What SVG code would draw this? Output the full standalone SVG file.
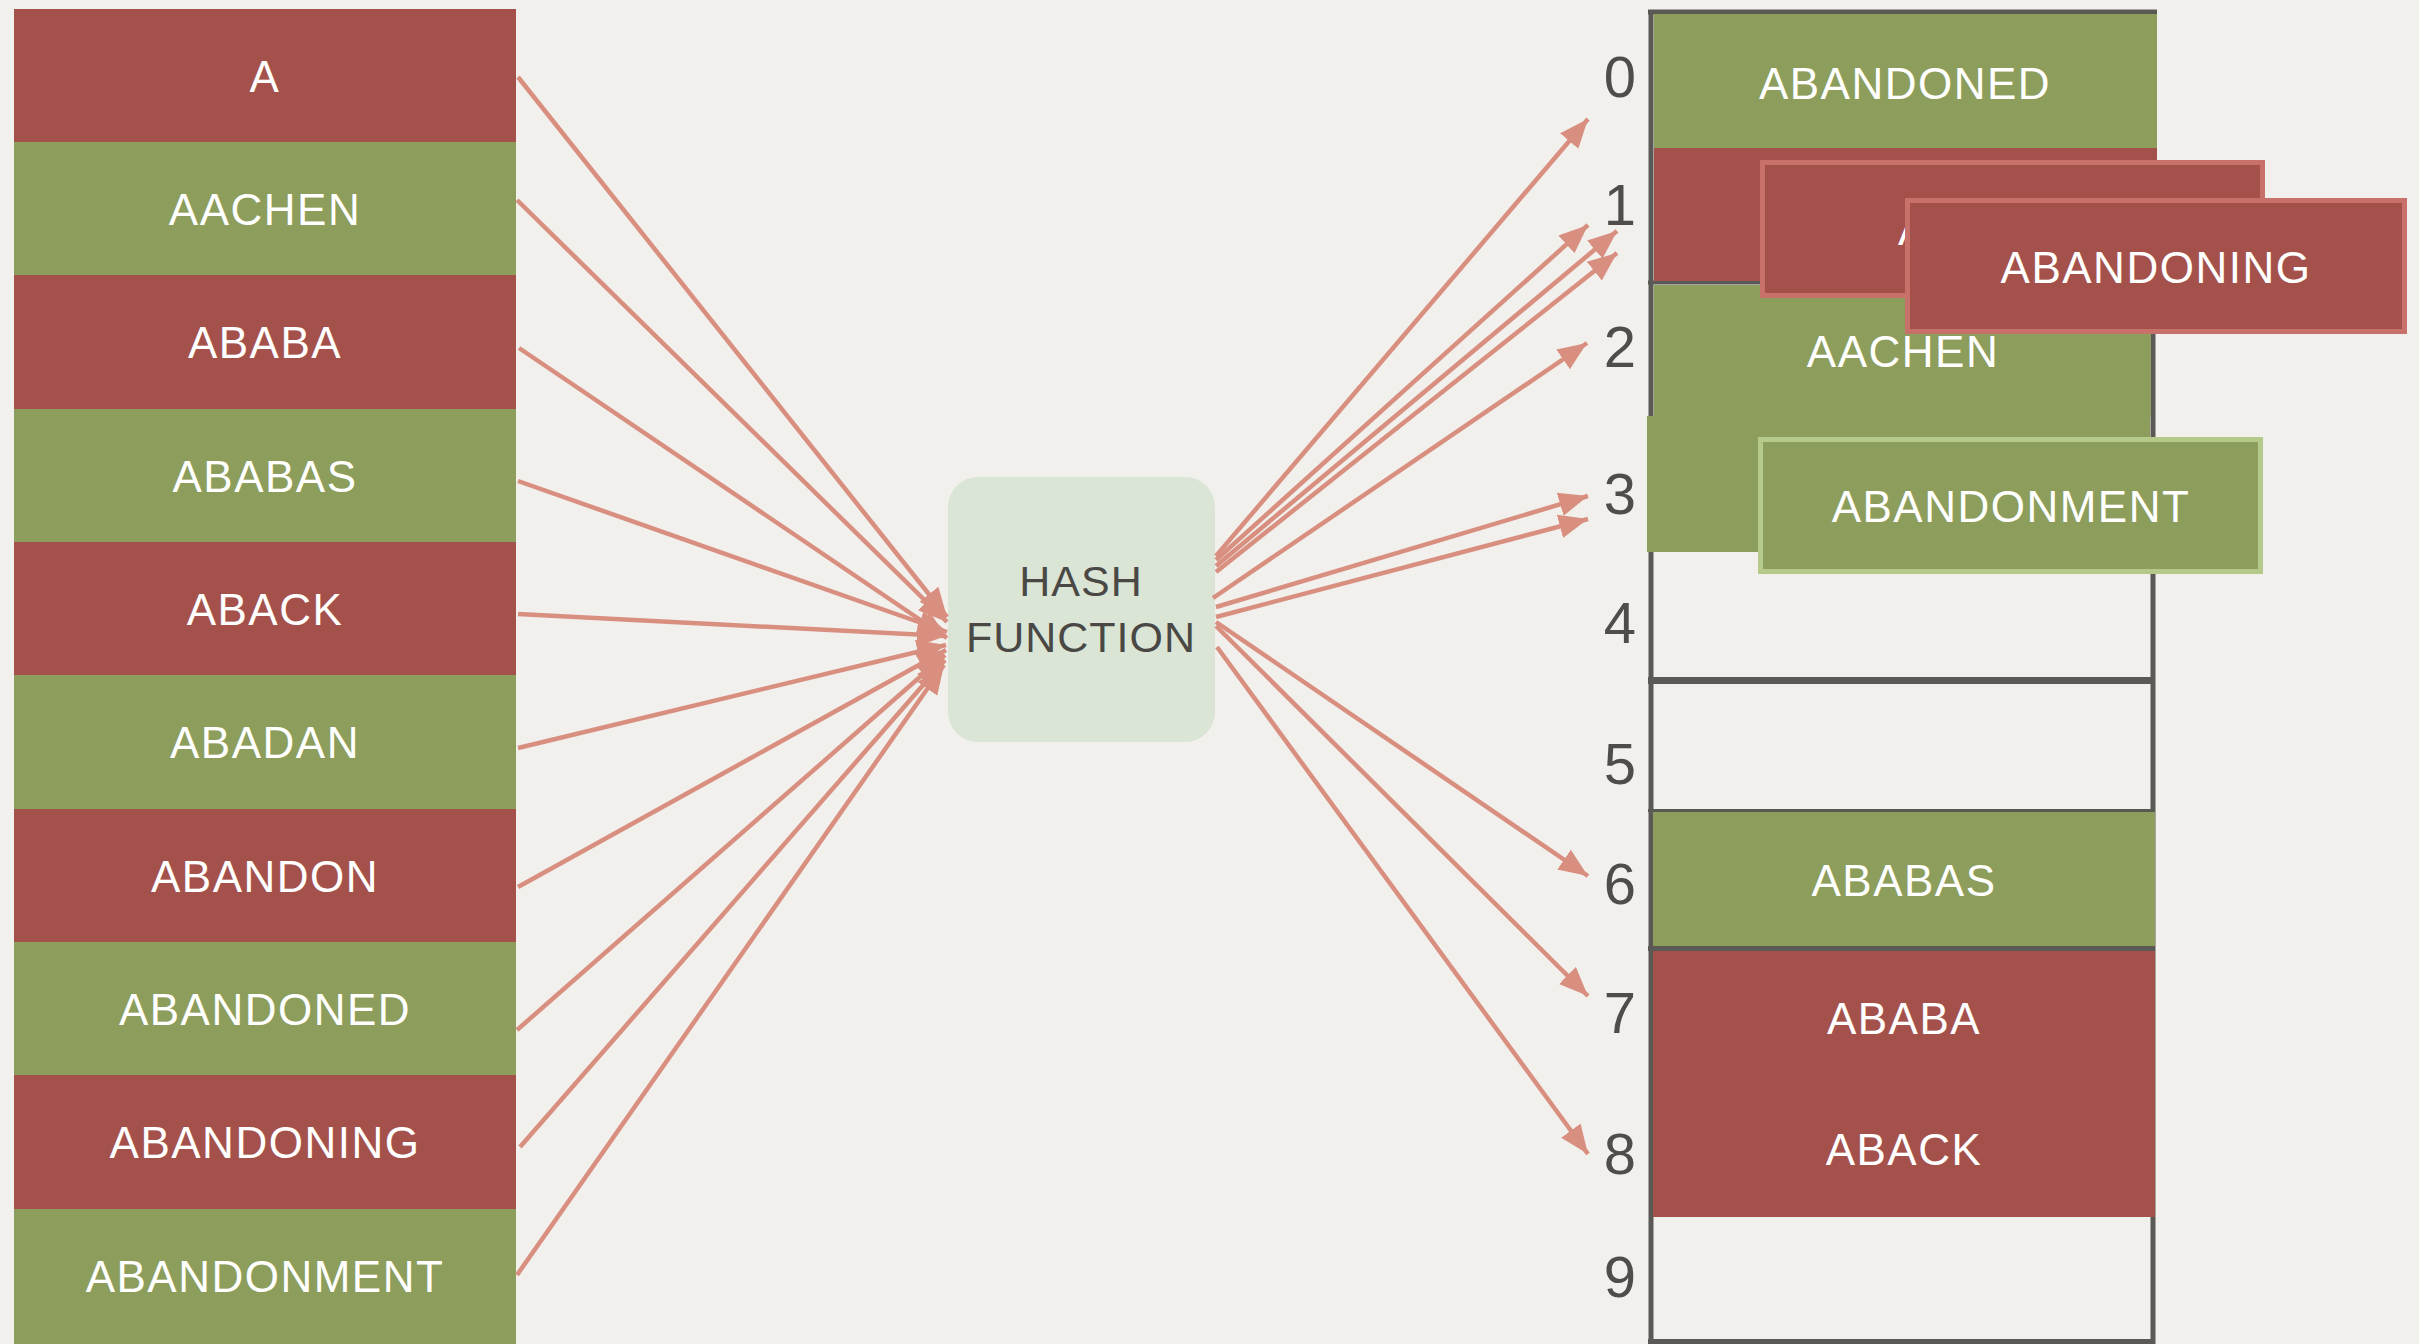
<svg xmlns="http://www.w3.org/2000/svg" width="2419" height="1344" viewBox="0 0 2419 1344">
<defs>
<style>
.red{fill:#a5514b}
.green{fill:#8d9d5b}
.w{font-family:"Liberation Sans",Arial,sans-serif;font-size:44px;fill:#ffffff;text-anchor:middle;letter-spacing:1.5px}
.num{font-family:"Liberation Sans",Arial,sans-serif;font-size:58px;fill:#4f4d4a;text-anchor:middle}
.frame{stroke:#5b5955;stroke-width:5;fill:none}
.arrow{stroke:#d98f80;stroke-width:4.5;fill:none;marker-end:url(#ah)}
</style>
<marker id="ah" markerUnits="userSpaceOnUse" markerWidth="32" markerHeight="28" refX="29" refY="14" orient="auto">
<path d="M0,2 L29,14 L0,26 z" fill="#d98f80"/>
</marker>
</defs>
<rect x="0" y="0" width="2419" height="1344" fill="#f1f0ec"/>

<g id="keys">
<g id="key-A"><rect class="red" x="14" y="9" width="502" height="134"/><text class="w" x="265" y="92">A</text></g>
<g id="key-AACHEN"><rect class="green" x="14" y="142" width="502" height="134"/><text class="w" x="265" y="225">AACHEN</text></g>
<g id="key-ABABA"><rect class="red" x="14" y="275" width="502" height="134"/><text class="w" x="265" y="358">ABABA</text></g>
<g id="key-ABABAS"><rect class="green" x="14" y="409" width="502" height="134"/><text class="w" x="265" y="492">ABABAS</text></g>
<g id="key-ABACK"><rect class="red" x="14" y="542" width="502" height="134"/><text class="w" x="265" y="625">ABACK</text></g>
<g id="key-ABADAN"><rect class="green" x="14" y="675" width="502" height="134"/><text class="w" x="265" y="758">ABADAN</text></g>
<g id="key-ABANDON"><rect class="red" x="14" y="809" width="502" height="134"/><text class="w" x="265" y="892">ABANDON</text></g>
<g id="key-ABANDONED"><rect class="green" x="14" y="942" width="502" height="134"/><text class="w" x="265" y="1025">ABANDONED</text></g>
<g id="key-ABANDONING"><rect class="red" x="14" y="1075" width="502" height="134"/><text class="w" x="265" y="1158">ABANDONING</text></g>
<g id="key-ABANDONMENT"><rect class="green" x="14" y="1209" width="502" height="136"/><text class="w" x="265" y="1292">ABANDONMENT</text></g>
</g>

<g id="hash-function">
<rect x="948" y="477" width="267" height="265" rx="30" ry="30" fill="#dae5d6"/>
<text x="1081" y="596" font-family="'Liberation Sans',Arial,sans-serif" font-size="43" fill="#4a4845" text-anchor="middle" letter-spacing="1">HASH</text>
<text x="1081" y="652" font-family="'Liberation Sans',Arial,sans-serif" font-size="43" fill="#4a4845" text-anchor="middle" letter-spacing="1">FUNCTION</text>
</g>

<g id="table">
<g id="table-frame">
<line class="frame" x1="1648" y1="12" x2="2157" y2="12"/>
<line class="frame" x1="1651" y1="10" x2="1651" y2="1344"/>
<line class="frame" x1="2153" y1="283" x2="2153" y2="1344"/>
<line class="frame" x1="1648" y1="282.5" x2="2155" y2="282.5" style="stroke-width:4"/>
<line class="frame" x1="1648" y1="680.5" x2="2155" y2="680.5" style="stroke-width:7"/>
<line class="frame" x1="1648" y1="810.5" x2="2155" y2="810.5" style="stroke-width:3"/>
<line class="frame" x1="1648" y1="948.5" x2="2155" y2="948.5"/>
<line class="frame" x1="1648" y1="1341.5" x2="2155" y2="1341.5"/>
</g>
<g id="slot-0"><rect class="green" x="1654" y="14" width="503" height="135"/><text class="w" x="1905" y="99">ABANDONED</text></g>
<g id="slot-1"><rect class="red" x="1654" y="148" width="503" height="133"/></g>
<g id="slot-2"><rect class="green" x="1654" y="285" width="497" height="132"/><text class="w" x="1903" y="367">AACHEN</text></g>
<g id="slot-3"><rect class="green" x="1647" y="416" width="503" height="136"/></g>
<g id="slot-6"><rect class="green" x="1653" y="812" width="502" height="134"/><text class="w" x="1904" y="896">ABABAS</text></g>
<g id="slot-7-8"><rect class="red" x="1653" y="951" width="502" height="266"/><text class="w" x="1904" y="1034">ABABA</text><text class="w" x="1904" y="1165">ABACK</text></g>
<g id="overflow-ABANDON"><rect class="red" x="1762.5" y="162.5" width="500" height="133" stroke="#c8716a" stroke-width="5"/><text class="w" x="2012" y="245">ABANDON</text></g>
<g id="overflow-ABANDONING"><rect class="red" x="1907.5" y="200.5" width="497" height="131" stroke="#c8716a" stroke-width="5"/><text class="w" x="2156" y="283">ABANDONING</text></g>
<g id="overflow-ABANDONMENT"><rect class="green" x="1760.5" y="439.5" width="500" height="132" stroke="#b4c98a" stroke-width="5"/><text class="w" x="2011" y="522">ABANDONMENT</text></g>
</g>

<g id="indices">
<text class="num" x="1620" y="97">0</text>
<text class="num" x="1620" y="225">1</text>
<text class="num" x="1620" y="367">2</text>
<text class="num" x="1620" y="514">3</text>
<text class="num" x="1620" y="643">4</text>
<text class="num" x="1620" y="784">5</text>
<text class="num" x="1620" y="904">6</text>
<text class="num" x="1620" y="1033">7</text>
<text class="num" x="1620" y="1174">8</text>
<text class="num" x="1620" y="1297">9</text>
</g>

<g id="connectors">
<line class="arrow" x1="518" y1="77" x2="947" y2="617"/>
<line class="arrow" x1="517" y1="200" x2="947" y2="622"/>
<line class="arrow" x1="519" y1="348" x2="947" y2="638"/>
<line class="arrow" x1="518" y1="481" x2="947" y2="632"/>
<line class="arrow" x1="518" y1="614" x2="946" y2="636"/>
<line class="arrow" x1="518" y1="748" x2="946" y2="645"/>
<line class="arrow" x1="518" y1="887" x2="946" y2="650"/>
<line class="arrow" x1="517" y1="1030" x2="945" y2="655"/>
<line class="arrow" x1="520" y1="1147" x2="945" y2="660"/>
<line class="arrow" x1="517" y1="1275" x2="944" y2="665"/>
<line class="arrow" x1="1216" y1="556" x2="1588" y2="119"/>
<line class="arrow" x1="1216" y1="560" x2="1588" y2="225"/>
<line class="arrow" x1="1216" y1="566" x2="1617" y2="231"/>
<line class="arrow" x1="1216" y1="572" x2="1617" y2="253"/>
<line class="arrow" x1="1213" y1="598" x2="1587" y2="343"/>
<line class="arrow" x1="1216" y1="607" x2="1588" y2="496"/>
<line class="arrow" x1="1216" y1="617" x2="1588" y2="519"/>
<line class="arrow" x1="1216" y1="622" x2="1588" y2="876"/>
<line class="arrow" x1="1216" y1="626" x2="1588" y2="996"/>
<line class="arrow" x1="1217" y1="647" x2="1588" y2="1154"/>
</g>
</svg>
